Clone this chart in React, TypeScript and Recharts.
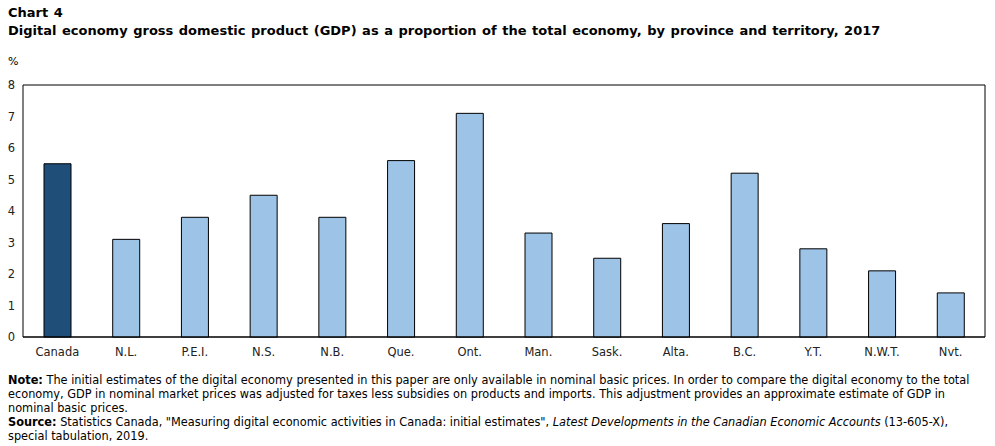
import React from 'react';
import { BarChart, Bar, XAxis, YAxis, Cell, ReferenceArea } from 'recharts';

const regions = ['Canada', 'N.L.', 'P.E.I.', 'N.S.', 'N.B.', 'Que.', 'Ont.', 'Man.', 'Sask.', 'Alta.', 'B.C.', 'Y.T.', 'N.W.T.', 'Nvt.'];
const shares = [5.5, 3.1, 3.8, 4.5, 3.8, 5.6, 7.1, 3.3, 2.5, 3.6, 5.2, 2.8, 2.1, 1.4];
const yTicks = [0, 1, 2, 3, 4, 5, 6, 7, 8];

const data = regions.map((name, i) => ({ name, value: shares[i] }));

const font = 'Verdana, "DejaVu Sans", sans-serif';

export default function App() {
  return (
    <div style={{ position: 'absolute', left: 0, top: 0, width: 995, height: 446, background: '#fff', fontFamily: font, color: '#000' }}>
      <div style={{ position: 'absolute', left: 8, top: 4, fontSize: 13, fontWeight: 'bold', lineHeight: '18px', whiteSpace: 'nowrap', wordSpacing: 1 }}>
        <div>Chart 4</div>
        <div>Digital economy gross domestic product (GDP) as a proportion of the total economy, by province and territory, 2017</div>
      </div>
      <div style={{ position: 'absolute', left: 8, top: 55, fontSize: 11 }}>%</div>
      <div style={{ position: 'absolute', left: 0, top: 0 }}>
        <BarChart width={995} height={370} data={data} margin={{ top: 85, right: 10, bottom: 3, left: 0 }} barSize={27}>
          <ReferenceArea y1={0} y2={8} stroke="#000" strokeWidth={1} fill="none" fillOpacity={0} ifOverflow="extendDomain" />
          <XAxis dataKey="name" stroke="#000" tickLine={false} tickMargin={5} tick={{ fill: '#222', fontSize: 11.5, fontFamily: font }} height={30} interval={0} />
          <YAxis domain={[0, 8]} ticks={yTicks} width={23} axisLine={false} tickLine={false} tick={{ fill: '#222', fontSize: 11.5, fontFamily: font }} />
          <Bar dataKey="value" stroke="#000" strokeWidth={1} isAnimationActive={false}>
            {data.map((d, i) => (
              <Cell key={d.name} fill={i === 0 ? '#1f4e79' : '#9dc3e6'} />
            ))}
          </Bar>
        </BarChart>
      </div>
      <div style={{ position: 'absolute', left: 8, top: 373, width: 985, fontSize: 12.6, lineHeight: '14px', whiteSpace: 'nowrap', fontFamily: '"DejaVu Sans Condensed", "Liberation Sans Narrow", sans-serif', color: '#000' }}>
        <div><b>Note:</b> The initial estimates of the digital economy presented in this paper are only available in nominal basic prices. In order to compare the digital economy to the total</div>
        <div>economy, GDP in nominal market prices was adjusted for taxes less subsidies on products and imports. This adjustment provides an approximate estimate of GDP in</div>
        <div>nominal basic prices.</div>
        <div><b>Source:</b> Statistics Canada, "Measuring digital economic activities in Canada: initial estimates", <i>Latest Developments in the Canadian Economic Accounts</i> (13-605-X),</div>
        <div>special tabulation, 2019.</div>
      </div>
    </div>
  );
}
